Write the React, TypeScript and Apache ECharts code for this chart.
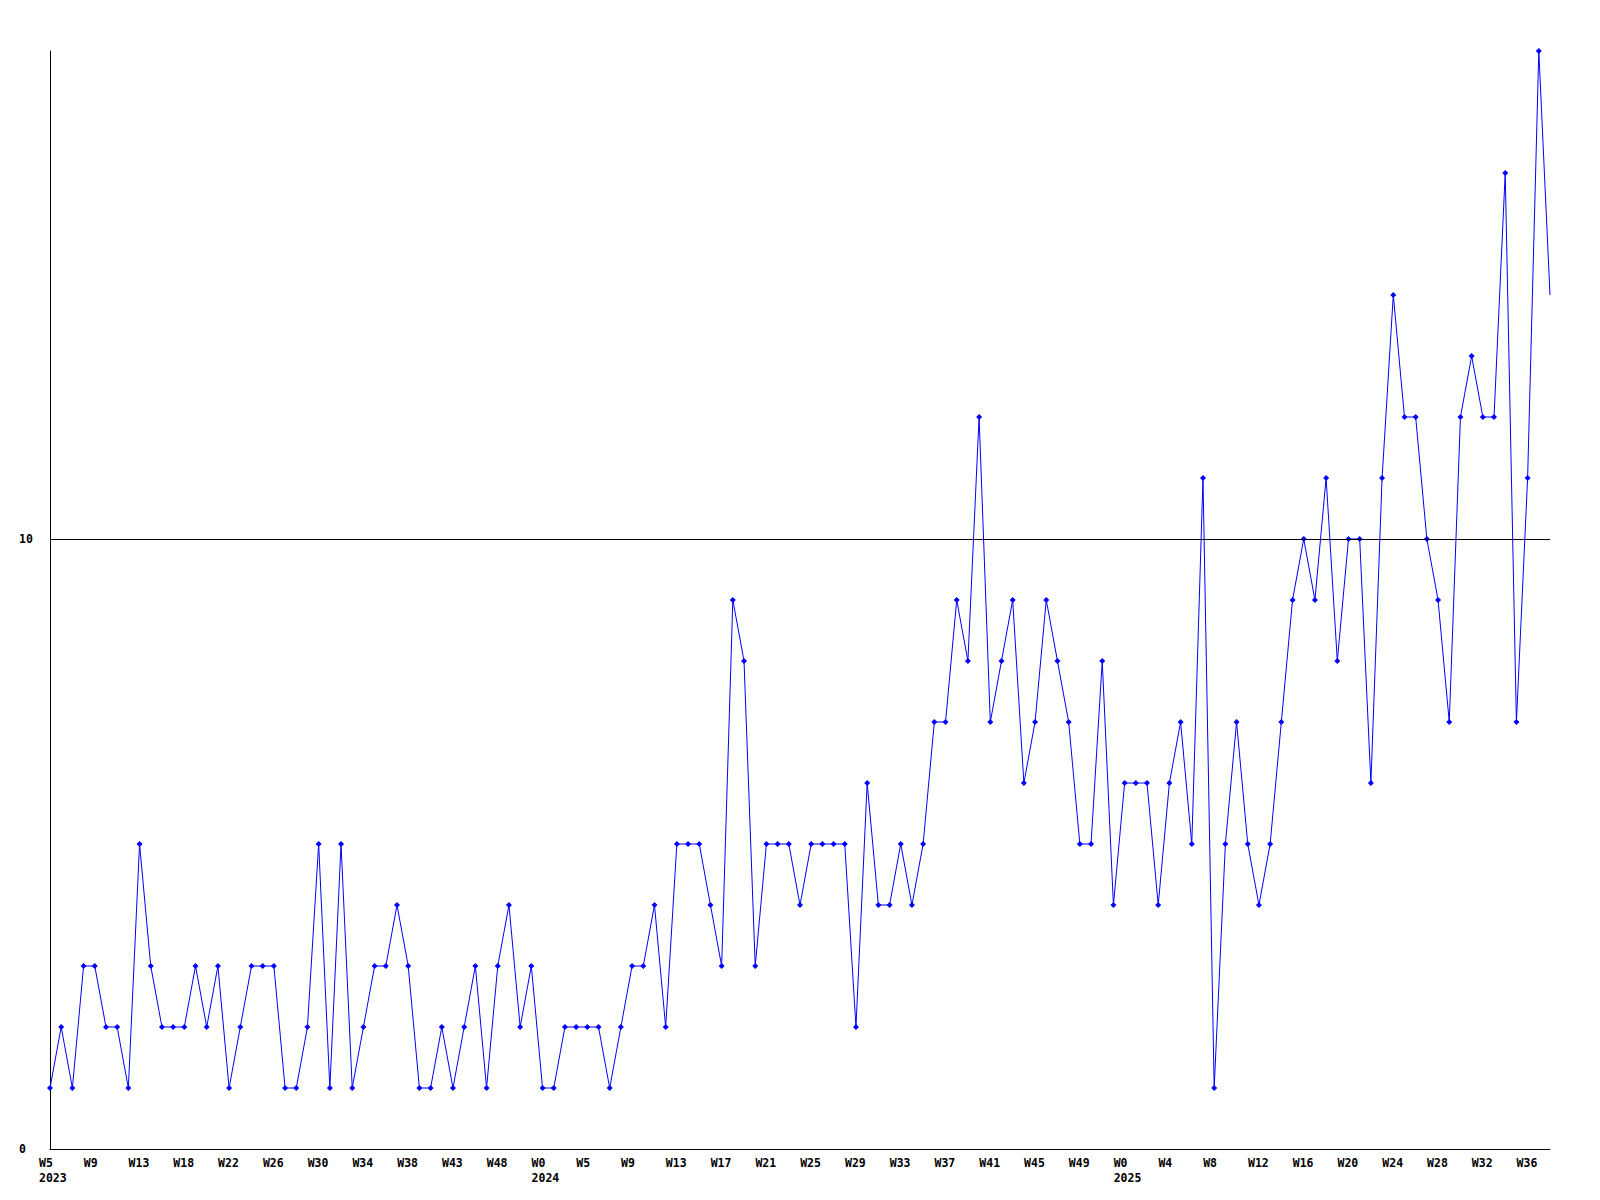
import React, { useEffect, useRef } from "react";
import * as echarts from "echarts";

// Weekly counts, one per point (last point is a partial week, drawn without marker)
const values: number[] = [
  1, 2, 1, 3, 3, 2, 2, 1, 5, 3, 2, 2, 2, 3, 2, 3, 1, 2, 3, 3, 3, 1, 1,
  2, 5, 1, 5, 1, 2, 3, 3, 4, 3, 1, 1, 2, 1, 2, 3, 1, 3, 4, 2, 3, 1, 1,
  2, 2, 2, 2, 1, 2, 3, 3, 4, 2, 5, 5, 5, 4, 3, 9, 8, 3,
  5, 5, 5, 4, 5, 5, 5, 5, 2, 6, 4, 4, 5, 4, 5, 7, 7, 9,
  8, 12, 7, 8, 9, 6, 7, 9, 8, 7, 5, 5, 8, 4, 6, 6, 6, 4, 6,
  7, 5, 11, 1, 5, 7, 5, 4, 5, 7, 9, 10, 9, 11, 8, 10, 10, 6,
  11, 14, 12, 12, 10, 9, 7, 12, 13, 12, 12, 16, 7, 11, 18, 14,
];

// Tick labels, one every 4 points
const weekTicks: string[] = [
  "W5", "W9", "W13", "W18", "W22", "W26", "W30", "W34", "W38", "W43", "W48",
  "W0", "W5", "W9", "W13", "W17", "W21", "W25", "W29", "W33", "W37", "W41", "W45", "W49",
  "W0", "W4", "W8", "W12", "W16", "W20", "W24", "W28", "W32", "W36",
];
const yearTicks: Record<number, string> = { 0: "2023", 11: "2024", 24: "2025" };
const TICK_STEP = 4;

const yMin = 0;
const yMax = 18;
const yInterval = 10;
const refLine = 10;

const FONT = "'DejaVu Sans Mono', 'Liberation Mono', monospace";

export default function App() {
  const ref = useRef<HTMLDivElement>(null);
  useEffect(() => {
    if (!ref.current) return;
    const chart = echarts.init(ref.current, null, { renderer: "svg" });
    const categories = values.map((_, i) => String(i));
    const lastIdx = values.length - 1;
    const seriesData = values.map((v, i) =>
      i === lastIdx ? { value: v, symbol: "none" } : v
    );
    chart.setOption({
      animation: false,
      backgroundColor: "#ffffff",
      grid: { left: 50, right: 50, top: 51, bottom: 51, containLabel: false },
      xAxis: {
        type: "category",
        data: categories,
        boundaryGap: false,
        axisLine: { show: true, lineStyle: { color: "#000000", width: 1 } },
        axisTick: { show: false },
        splitLine: { show: false },
        axisLabel: {
          interval: TICK_STEP - 1,
          margin: 6,
          align: "center",
          formatter: (_v: string, idx: number) => {
            if (idx % TICK_STEP !== 0) return "";
            const k = idx / TICK_STEP;
            const w = weekTicks[k];
            if (w === undefined) return "";
            const y = yearTicks[k];
            return y ? `{a|${w}}\n{a|${y}}` : `{a|${w}}`;
          },
          rich: {
            a: {
              width: 22,
              align: "left",
              fontFamily: FONT,
              fontWeight: "bold",
              fontSize: 11.5,
              lineHeight: 15,
              color: "#000000",
            },
          },
        },
      },
      yAxis: {
        type: "value",
        min: yMin,
        max: yMax,
        interval: yInterval,
        axisLine: { show: true, lineStyle: { color: "#000000", width: 1 } },
        axisTick: { show: false },
        splitLine: { show: false },
        axisLabel: {
          showMaxLabel: false,
          align: "left",
          margin: 31,
          fontFamily: FONT,
          fontWeight: "bold",
          fontSize: 11.5,
          color: "#000000",
        },
      },
      series: [
        {
          type: "line",
          data: seriesData,
          symbol: "diamond",
          symbolSize: 6,
          showAllSymbol: true,
          lineStyle: { color: "#0000ff", width: 1 },
          itemStyle: { color: "#0000ff" },
          markLine: {
            silent: true,
            symbol: ["none", "none"],
            label: { show: false },
            lineStyle: { color: "#000000", width: 1, type: "solid" },
            data: [{ yAxis: refLine }],
          },
        },
      ],
    });
    return () => chart.dispose();
  }, []);
  return (
    <div
      ref={ref}
      style={{ position: "fixed", left: 0, top: 0, width: 1600, height: 1200, background: "#fff" }}
    />
  );
}
